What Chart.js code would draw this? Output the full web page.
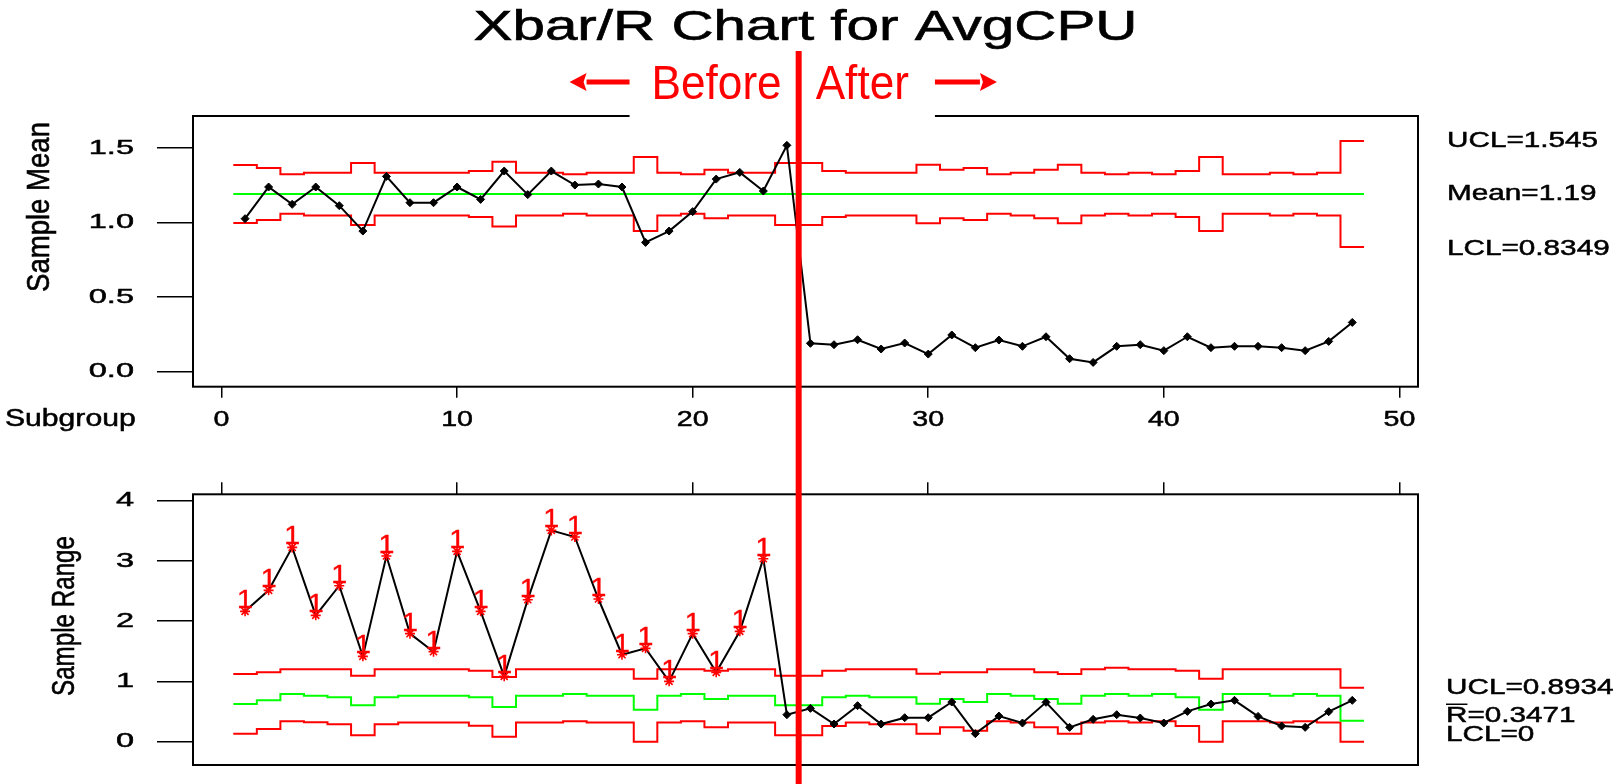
<!DOCTYPE html>
<html>
<head>
<meta charset="utf-8">
<title>Xbar/R Chart for AvgCPU</title>
<script src="https://cdn.jsdelivr.net/npm/chart.js@4.4.1/dist/chart.umd.min.js"></script>
<style>
	html, body { margin: 0; padding: 0; background: #fff; }
	#wrap { position: relative; width: 1623px; height: 784px; overflow: hidden; }
	canvas { position: absolute; left: 0; }
	#meanChart { top: 0; }
	#rangeChart { top: 450px; }
</style>
</head>
<body>
<div id="wrap">
	<canvas id="meanChart" width="1623" height="450"></canvas>
	<canvas id="rangeChart" width="1623" height="334"></canvas>
</div>
<script>
var subgroups = Array.from( { length: 48 }, function ( _, i ) { return i + 1; } );
var xTicks = [0, 10, 20, 30, 40, 50];
var meanTicks = [0, 0.5, 1, 1.5];
var meanTickLabels = ['0.0', '0.5', '1.0', '1.5'];
var rangeTicks = [0, 1, 2, 3, 4];
var rangeTickLabels = ['0', '1', '2', '3', '4'];

// subgroup means
var meanValues = [1.025, 1.237, 1.121, 1.237, 1.112, 0.942, 1.308, 1.132, 1.132, 1.237, 1.154, 1.344,
	1.186, 1.344, 1.250, 1.257, 1.237, 0.866, 0.942, 1.072, 1.290, 1.335, 1.210, 1.516,
	0.190, 0.181, 0.214, 0.152, 0.192, 0.118, 0.246, 0.161, 0.212, 0.170, 0.234, 0.087,
	0.062, 0.170, 0.181, 0.141, 0.234, 0.161, 0.170, 0.170, 0.161, 0.141, 0.203, 0.330];
var meanUcl = [1.384, 1.364, 1.322, 1.333, 1.333, 1.398, 1.333, 1.333, 1.333, 1.333, 1.344, 1.407,
	1.333, 1.333, 1.322, 1.333, 1.333, 1.438, 1.333, 1.322, 1.353, 1.333, 1.333, 1.398,
	1.398, 1.344, 1.333, 1.333, 1.333, 1.386, 1.353, 1.364, 1.322, 1.333, 1.353, 1.386,
	1.333, 1.322, 1.333, 1.322, 1.344, 1.438, 1.322, 1.322, 1.333, 1.322, 1.333, 1.545];
var meanLcl = [0.996, 1.016, 1.058, 1.047, 1.047, 0.982, 1.047, 1.047, 1.047, 1.047, 1.036, 0.973,
	1.047, 1.047, 1.058, 1.047, 1.047, 0.942, 1.047, 1.058, 1.027, 1.047, 1.047, 0.982,
	0.982, 1.036, 1.047, 1.047, 1.047, 0.994, 1.027, 1.016, 1.058, 1.047, 1.027, 0.994,
	1.047, 1.058, 1.047, 1.058, 1.036, 0.942, 1.058, 1.058, 1.047, 1.058, 1.047, 0.8349];
var meanCenter = 1.19;

// subgroup ranges
var rangeValues = [2.163, 2.512, 3.225, 2.097, 2.589, 1.416, 3.082, 1.793, 1.494, 3.159, 2.163, 1.084,
	2.357, 3.507, 3.397, 2.368, 1.444, 1.549, 1.001, 1.793, 1.151, 1.831, 3.037, 0.448,
	0.553, 0.293, 0.598, 0.293, 0.398, 0.398, 0.658, 0.133, 0.425, 0.310, 0.653, 0.238,
	0.371, 0.448, 0.393, 0.310, 0.503, 0.625, 0.686, 0.420, 0.260, 0.238, 0.498, 0.686];
var rangeUcl = [1.123, 1.151, 1.201, 1.201, 1.201, 1.095, 1.201, 1.201, 1.201, 1.201, 1.178, 1.073,
	1.201, 1.201, 1.201, 1.201, 1.201, 1.046, 1.201, 1.201, 1.178, 1.201, 1.201, 1.095,
	1.095, 1.178, 1.201, 1.201, 1.201, 1.128, 1.151, 1.151, 1.201, 1.201, 1.151, 1.123,
	1.201, 1.228, 1.201, 1.201, 1.178, 1.046, 1.201, 1.201, 1.201, 1.201, 1.201, 0.8934];
var rangeCenter = [0.625, 0.686, 0.791, 0.763, 0.736, 0.603, 0.736, 0.763, 0.763, 0.763, 0.736, 0.575,
	0.763, 0.763, 0.791, 0.763, 0.763, 0.531, 0.763, 0.791, 0.708, 0.763, 0.763, 0.603,
	0.603, 0.736, 0.763, 0.736, 0.736, 0.631, 0.708, 0.658, 0.791, 0.763, 0.708, 0.631,
	0.763, 0.791, 0.763, 0.791, 0.736, 0.531, 0.791, 0.791, 0.763, 0.791, 0.763, 0.3471];
var rangeLcl = [0.133, 0.210, 0.338, 0.321, 0.288, 0.105, 0.288, 0.320, 0.320, 0.320, 0.266, 0.083,
	0.320, 0.320, 0.338, 0.320, 0.320, 0, 0.320, 0.338, 0.238, 0.320, 0.320, 0.105,
	0.105, 0.260, 0.320, 0.288, 0.288, 0.133, 0.238, 0.183, 0.338, 0.320, 0.238, 0.133,
	0.320, 0.338, 0.320, 0.338, 0.260, 0, 0.338, 0.338, 0.320, 0.338, 0.320, 0];
// subgroups failing test 1 on the range chart
var rangeFlagged = [1, 2, 3, 4, 5, 6, 7, 8, 9, 10, 11, 12, 13, 14, 15, 16, 17, 18, 19, 20, 21, 22, 23];

var lastBefore = 24;

var FONT = "'Liberation Sans', Arial, Helvetica, sans-serif";
var RED = '#ff0000';
var GREEN = '#00ff00';

// text in the source picture is stretched sideways
function stretchText( ctx, text, x, y, size, opt ) {
	opt = opt || {};
	ctx.save();
	ctx.font = size + 'px ' + FONT;
	ctx.fillStyle = opt.color || '#000';
	ctx.strokeStyle = opt.color || '#000';
	ctx.textAlign = opt.align || 'left';
	ctx.textBaseline = opt.baseline || 'middle';
	ctx.translate( x, y );
	if ( opt.rotate ) {
		ctx.rotate( opt.rotate );
	}
	var sx = opt.sx || 1.4;
	if ( opt.fit ) {
		sx = opt.fit / ctx.measureText( text ).width;
	}
	ctx.scale( sx, opt.sy || 1 );
	ctx.fillText( text, 0, 0 );
	if ( opt.heavy ) {
		ctx.lineWidth = opt.heavy;
		ctx.strokeText( text, 0, 0 );
	}
	ctx.restore();
}

function points( values ) {
	return values.map( function ( v, i ) { return { x: subgroups[i], y: v }; } );
}

function steps( values ) {
	var pts = values.map( function ( v, i ) { return { x: subgroups[i] - 0.5, y: v }; } );
	pts.push( { x: subgroups[values.length - 1] + 0.5, y: values[values.length - 1] } );
	return pts;
}

function flat( value ) {
	return [
		{ x: subgroups[0] - 0.5, y: value },
		{ x: subgroups[subgroups.length - 1] + 0.5, y: value }
	];
}

function limitSet( data, color ) {
	return {
		data: data, borderColor: color, borderWidth: 2, pointRadius: 0, stepped: 'before', fill: false
	};
}

function xAxis( position, tickLength, height ) {
	return {
		type: 'linear', position: position, min: -1.21, max: 50.79,
		afterBuildTicks: function ( axis ) { axis.ticks = xTicks.map( function ( v ) { return { value: v }; } ); },
		afterFit: function ( axis ) { axis.height = height; },
		ticks: { display: false },
		grid: { drawOnChartArea: false, drawTicks: true, tickLength: tickLength, color: '#000', lineWidth: 1.5 },
		border: { display: false }
	};
}

function yAxis( min, max, ticks ) {
	return {
		type: 'linear', position: 'left', min: min, max: max,
		afterBuildTicks: function ( axis ) { axis.ticks = ticks.map( function ( v ) { return { value: v }; } ); },
		afterFit: function ( axis ) { axis.width = 193; },
		ticks: { display: false },
		grid: { drawOnChartArea: false, drawTicks: true, tickLength: 36, color: '#000', lineWidth: 1.5 },
		border: { display: false }
	};
}

function drawBox( ctx, area ) {
	ctx.save();
	ctx.strokeStyle = '#000';
	ctx.lineWidth = 2;
	ctx.strokeRect( area.left, area.top, area.right - area.left, area.bottom - area.top );
	ctx.restore();
}

function drawArrow( ctx, from, to, y ) {
	var dir = to < from ? -1 : 1;
	var head = to - dir * 17;
	ctx.save();
	ctx.strokeStyle = RED;
	ctx.fillStyle = RED;
	ctx.lineWidth = 5;
	ctx.beginPath();
	ctx.moveTo( from, y );
	ctx.lineTo( head, y );
	ctx.stroke();
	ctx.beginPath();
	ctx.moveTo( to, y );
	ctx.lineTo( head, y - 9 );
	ctx.lineTo( head + dir * 3, y );
	ctx.lineTo( head, y + 9 );
	ctx.closePath();
	ctx.fill();
	ctx.restore();
}

function drawChangeLine( chart, top ) {
	var lx = chart.scales.x.getPixelForValue( lastBefore + 0.5 );
	chart.ctx.save();
	chart.ctx.fillStyle = RED;
	chart.ctx.fillRect( lx - 3, top, 6, chart.height - top );
	chart.ctx.restore();
}

var meanDecor = {
	id: 'meanDecor',
	afterDraw: function ( chart ) {
		var ctx = chart.ctx, area = chart.chartArea;
		var xs = chart.scales.x, ys = chart.scales.y;
		drawBox( ctx, area );

		meanTicks.forEach( function ( v, i ) {
			stretchText( ctx, meanTickLabels[i], area.left - 59, ys.getPixelForValue( v ), 21, { align: 'right', sx: 1.55, heavy: 0.5 } );
		} );
		xTicks.forEach( function ( v ) {
			stretchText( ctx, String( v ), xs.getPixelForValue( v ), area.bottom + 33, 22, { align: 'center', sx: 1.3, heavy: 0.5 } );
		} );
		stretchText( ctx, 'Subgroup', 5, area.bottom + 33, 23, { sx: 1.31, heavy: 0.5 } );
		stretchText( ctx, 'Sample Mean', 49, 207, 32, { rotate: -Math.PI / 2, align: 'center', baseline: 'alphabetic', fit: 170, heavy: 0.6 } );

		var lx0 = area.right + 29;
		stretchText( ctx, 'UCL=' + meanUcl[meanUcl.length - 1], lx0, ys.getPixelForValue( meanUcl[meanUcl.length - 1] ), 22, { sx: 1.35, heavy: 0.5 } );
		stretchText( ctx, 'Mean=' + meanCenter, lx0, ys.getPixelForValue( meanCenter ), 22, { sx: 1.35, heavy: 0.5 } );
		stretchText( ctx, 'LCL=' + meanLcl[meanLcl.length - 1], lx0, ys.getPixelForValue( meanLcl[meanLcl.length - 1] ) + 2, 22, { sx: 1.35, heavy: 0.5 } );

		stretchText( ctx, 'Xbar/R Chart for AvgCPU', ( area.left + area.right ) / 2, 40, 42, { align: 'center', baseline: 'alphabetic', sx: 1.39, heavy: 0.6 } );

		// Before | After marker
		var lx = xs.getPixelForValue( lastBefore + 0.5 );
		ctx.save();
		ctx.font = '48px ' + FONT;
		var bw = ctx.measureText( 'Before' ).width * 0.92;
		var aw = ctx.measureText( 'After' ).width * 0.92;
		ctx.restore();
		var gapL = lx - 17 - bw - 22;
		var gapR = lx + 17 + aw + 26;
		ctx.save();
		ctx.fillStyle = '#fff';
		ctx.fillRect( gapL, area.top - 3, gapR - gapL, 6 );
		ctx.restore();
		stretchText( ctx, 'Before', lx - 17, 99, 48, { color: RED, align: 'right', baseline: 'alphabetic', sx: 0.92 } );
		stretchText( ctx, 'After', lx + 17, 99, 48, { color: RED, align: 'left', baseline: 'alphabetic', sx: 0.92 } );
		drawArrow( ctx, gapL, gapL - 60, 82 );
		drawArrow( ctx, gapR, gapR + 62, 82 );

		drawChangeLine( chart, 51 );
	}
};

var rangeDecor = {
	id: 'rangeDecor',
	afterDraw: function ( chart ) {
		var ctx = chart.ctx, area = chart.chartArea;
		var ys = chart.scales.y;
		drawBox( ctx, area );

		rangeTicks.forEach( function ( v, i ) {
			stretchText( ctx, rangeTickLabels[i], area.left - 59, ys.getPixelForValue( v ), 21, { align: 'right', sx: 1.55, heavy: 0.5 } );
		} );
		stretchText( ctx, 'Sample Range', 74, 166, 32, { rotate: -Math.PI / 2, align: 'center', baseline: 'alphabetic', fit: 160, heavy: 0.6 } );

		// test 1 flags
		var meta = chart.getDatasetMeta( 0 );
		rangeFlagged.forEach( function ( s ) {
			var el = meta.data[subgroups.indexOf( s )];
			stretchText( ctx, '1', el.x, el.y - 3, 26, { color: RED, align: 'center', baseline: 'alphabetic', sx: 1.1, heavy: 0.4 } );
		} );

		var lx0 = area.right + 28;
		var last = rangeValues.length - 1;
		stretchText( ctx, 'UCL=' + rangeUcl[last], lx0, ys.getPixelForValue( rangeUcl[last] ), 22, { sx: 1.35, heavy: 0.5 } );
		var ry = ys.getPixelForValue( rangeCenter[last] ) - 5;
		stretchText( ctx, 'R=' + rangeCenter[last], lx0, ry, 22, { sx: 1.35, heavy: 0.5 } );
		ctx.save();
		ctx.font = '22px ' + FONT;
		var rw = ctx.measureText( 'R' ).width * 1.35;
		ctx.strokeStyle = '#000';
		ctx.lineWidth = 1.5;
		ctx.beginPath();
		ctx.moveTo( lx0, ry - 11.5 );
		ctx.lineTo( lx0 + rw, ry - 11.5 );
		ctx.stroke();
		ctx.restore();
		stretchText( ctx, 'LCL=' + rangeLcl[last], lx0, ys.getPixelForValue( rangeLcl[last] ) - 7, 22, { sx: 1.35, heavy: 0.5 } );

		drawChangeLine( chart, 0 );
	}
};

var common = {
	responsive: false,
	animation: false,
	events: [],
	plugins: { legend: { display: false }, tooltip: { enabled: false } }
};

new Chart( document.getElementById( 'meanChart' ), {
	type: 'line',
	data: {
		datasets: [
			{
				data: points( meanValues ), borderColor: '#000', borderWidth: 2,
				pointStyle: 'rectRot', pointRadius: 4, pointBackgroundColor: '#000', pointBorderColor: '#000', pointBorderWidth: 1
			},
			limitSet( steps( meanUcl ), RED ),
			limitSet( flat( meanCenter ), GREEN ),
			limitSet( steps( meanLcl ), RED )
		]
	},
	options: Object.assign( {}, common, {
		layout: { padding: { top: 116, right: 205, bottom: 0, left: 0 } },
		scales: {
			x: xAxis( 'bottom', 11, 63.3 ),
			y: yAxis( -0.1005, 1.7126, meanTicks )
		}
	} ),
	plugins: [meanDecor]
} );

new Chart( document.getElementById( 'rangeChart' ), {
	type: 'line',
	data: {
		datasets: [
			{
				data: points( rangeValues ), borderColor: '#000', borderWidth: 2,
				pointStyle: subgroups.map( function ( s ) { return rangeFlagged.indexOf( s ) >= 0 ? 'star' : 'rectRot'; } ),
				pointRadius: subgroups.map( function ( s ) { return rangeFlagged.indexOf( s ) >= 0 ? 5 : 4; } ),
				pointBorderColor: subgroups.map( function ( s ) { return rangeFlagged.indexOf( s ) >= 0 ? RED : '#000'; } ),
				pointBackgroundColor: '#000',
				pointBorderWidth: subgroups.map( function ( s ) { return rangeFlagged.indexOf( s ) >= 0 ? 1.6 : 1; } )
			},
			limitSet( steps( rangeUcl ), RED ),
			limitSet( steps( rangeCenter ), GREEN ),
			limitSet( steps( rangeLcl ), RED )
		]
	},
	options: Object.assign( {}, common, {
		layout: { padding: { top: 0, right: 205, bottom: 19, left: 0 } },
		scales: {
			x: xAxis( 'top', 12, 44.3 ),
			y: yAxis( -0.387, 4.106, rangeTicks )
		}
	} ),
	plugins: [rangeDecor]
} );
</script>
</body>
</html>
